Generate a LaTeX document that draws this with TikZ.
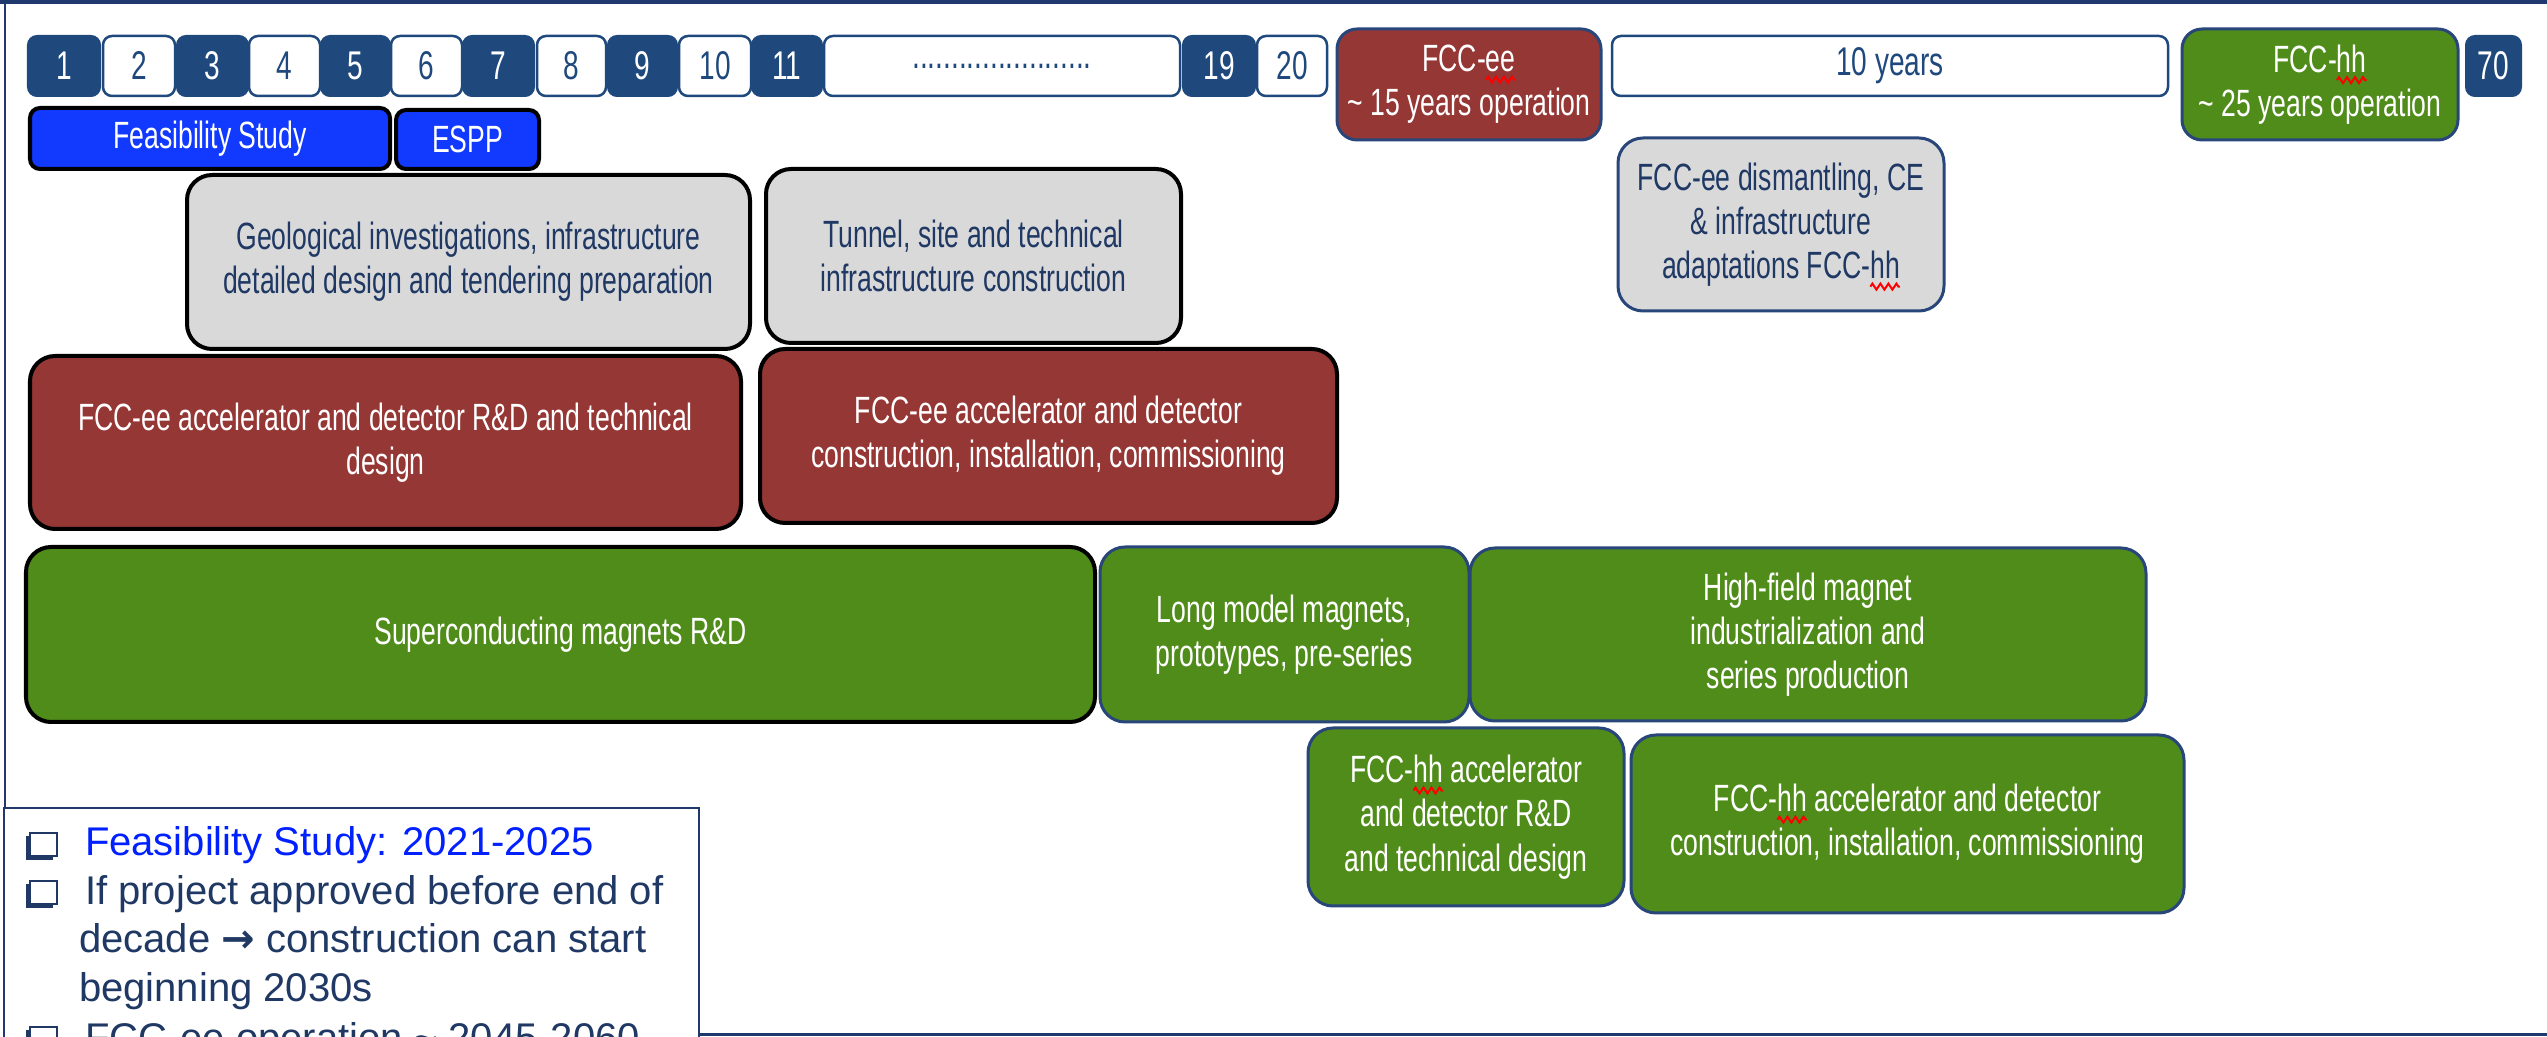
\documentclass[tikz,border=0pt]{standalone}
\usepackage{fontspec}
\setmainfont{Liberation Sans}
\newfontfamily\nar{Liberation Sans}[FakeStretch=0.70]
\newfontfamily\dv{DejaVu Sans}
\usetikzlibrary{decorations.pathmorphing}

\definecolor{navy}{RGB}{31,73,125}
\definecolor{bord}{RGB}{40,70,122}
\definecolor{ink}{RGB}{31,56,100}
\definecolor{cred}{RGB}{149,55,53}
\definecolor{cgreen}{RGB}{80,140,26}
\definecolor{cgray}{RGB}{217,217,217}
\definecolor{cblue}{RGB}{18,58,255}
\definecolor{fblue}{RGB}{0,32,255}
\definecolor{framec}{RGB}{31,56,110}

% text sizes (1 unit = 0.01cm)
\newcommand\bsz{\fontsize{10.8pt}{12.6pt}\selectfont}
\newcommand\nsz{\fontsize{11.4pt}{12.6pt}\selectfont}
\newcommand\lsz{\fontsize{11.38pt}{13.8pt}\selectfont}

% spell-check style wavy underline under a word
\newcommand\sq[1]{\tikz[baseline=(sqw.base)]{%
  \node[inner sep=0pt,outer sep=0pt,minimum width=0pt,minimum height=0pt,
        draw=none,fill=none,anchor=base] (sqw) at (0,0) {#1};
  \draw[squig,overlay] ([yshift=-0.08cm]sqw.base west) -- ([yshift=-0.08cm]sqw.base east);}}

% box: name, x1, y1, x2, y2, style, text
\newcommand\bx[7]{\node[#6,minimum width={(#4-#2)*0.01cm},minimum height={(#5-#3)*0.01cm}]
  (#1) at ({(#2+#4)/2},{(#3+#5)/2}) {#7};}

% shadowed square bullet with top-left corner at (x,y)
\newcommand\bul[2]{%
  \fill[ink] (#1,#2+3) rectangle (#1+27,#2+27);
  \filldraw[fill=white,draw=ink,line width=0.015cm] (#1+4,#2) rectangle (#1+31,#2+23);}

\tikzset{
  box/.style={align=center,inner sep=0pt,outer sep=0pt,font=\nar\bsz},
  tld/.style={box,fill=navy,draw=navy,line width=0.02cm,rounded corners=0.09cm,text=white,font=\nar\nsz},
  tlw/.style={box,fill=white,draw=navy,line width=0.025cm,rounded corners=0.09cm,text=navy,font=\nar\nsz},
  opred/.style={box,fill=cred,draw=bord,line width=0.03cm,rounded corners=0.2cm,text=white},
  opgreen/.style={box,fill=cgreen,draw=bord,line width=0.03cm,rounded corners=0.2cm,text=white},
  bluebox/.style={box,fill=cblue,draw=black,line width=0.04cm,rounded corners=0.1cm,text=white},
  graybox/.style={box,fill=cgray,draw=black,line width=0.04cm,rounded corners=0.25cm,text=ink},
  grayblue/.style={box,fill=cgray,draw=bord,line width=0.03cm,rounded corners=0.25cm,text=ink},
  redbox/.style={box,fill=cred,draw=black,line width=0.04cm,rounded corners=0.25cm,text=white},
  greenblack/.style={box,fill=cgreen,draw=black,line width=0.04cm,rounded corners=0.25cm,text=white},
  greenbox/.style={box,fill=cgreen,draw=bord,line width=0.03cm,rounded corners=0.25cm,text=white},
  squig/.style={draw=red,line width=0.02cm,sharp corners,decorate,
    decoration={zigzag,segment length=0.08cm,amplitude=0.03cm}},
  note/.style={anchor=base west,inner sep=0pt,outer sep=0pt,font=\lsz,text=ink},
}

\begin{document}
\begin{tikzpicture}[x=0.01cm,y=-0.01cm]
\useasboundingbox (0,0) rectangle (2547,1037);
\clip (0,0) rectangle (2547,1037);
\fill[white] (0,0) rectangle (2547,1037);

% frame
\draw[framec,line width=0.045cm] (0,2) -- (2547,2);
\draw[framec,line width=0.02cm] (5,0) -- (5,820);
\draw[framec,line width=0.03cm] (690,1035) -- (2547,1035);

% year scale
\foreach \n/\a/\b in {1/28/100,3/177/248,5/321/390,7/463/534,9/608/677,11/752/822,19/1183/1255,70/2466/2521}
  {\bx{n\n}{\a}{36}{\b}{96}{tld}{\n}}
\foreach \n/\a/\b in {2/103/175,4/249/320,6/391/462,8/537/606,10/679/751,20/1257/1327}
  {\bx{n\n}{\a}{36}{\b}{96}{tlw}{\n}}
\bx{dots}{824}{36}{1180}{96}{tlw}{.......................}
\bx{ten}{1612}{36}{2168}{96}{tlw}{10 years}

% operation periods
\bx{ee}{1337}{29}{1601}{140}{opred}{FCC-\sq{ee}\\\textasciitilde\ 15 years operation}
\bx{hh}{2182}{29}{2458}{140}{opgreen}{FCC-\sq{hh}\\\textasciitilde\ 25 years operation}

% studies and civil engineering
\bx{fs}{30}{108}{390}{169}{bluebox}{Feasibility Study}
\bx{espp}{396}{110}{539}{169}{bluebox}{ESPP}
\bx{geo}{187}{175}{750}{349}{graybox}{Geological investigations, infrastructure\\detailed design and tendering preparation}
\bx{tun}{766}{169}{1181}{343}{graybox}{Tunnel, site and technical\\infrastructure construction}
\bx{dis}{1618}{138}{1944}{311}{grayblue}{FCC-ee dismantling, CE\\\& infrastructure\\adaptations FCC-\sq{hh}}

% FCC-ee machine
\bx{eerd}{30}{356}{741}{529}{redbox}{FCC-ee accelerator and detector R\&D and technical\\design}
\bx{eecon}{760}{349}{1337}{523}{redbox}{FCC-ee accelerator and detector\\construction, installation, commissioning}

% magnets and FCC-hh machine
\bx{sc}{26}{547}{1095}{722}{greenblack}{Superconducting magnets R\&D}
\bx{lm}{1100}{547}{1469}{722}{greenbox}{Long model magnets,\\prototypes, pre-series}
\bx{hf}{1470}{548}{2146}{721}{greenbox}{High-field magnet\\industrialization and\\series production}
\bx{hhrd}{1308}{728}{1624}{906}{greenbox}{FCC-\sq{hh} accelerator\\and detector R\&D\\and technical design}
\bx{hhcon}{1631}{735}{2184}{913}{greenbox}{FCC-\sq{hh} accelerator and detector\\construction, installation, commissioning}

% summary box
\bx{sum}{4}{808}{699}{1130}{draw=framec,fill=white,line width=0.02cm}{}
\bul{26}{833}
\bul{26}{881}
\bul{26}{1027}
\node[note,text=fblue] (l1) at (85,856) {Feasibility Study: 2021-2025};
\node[note] (l2) at (85,905) {If project approved before end of};
\node[note] (l3) at (79,953) {decade {\dv\bfseries →} construction can start};
\node[note] (l4) at (79,1002) {beginning 2030s};
\node[note] (l5) at (85,1052) {FCC-ee operation \textasciitilde\ 2045-2060};
\end{tikzpicture}
\end{document}
